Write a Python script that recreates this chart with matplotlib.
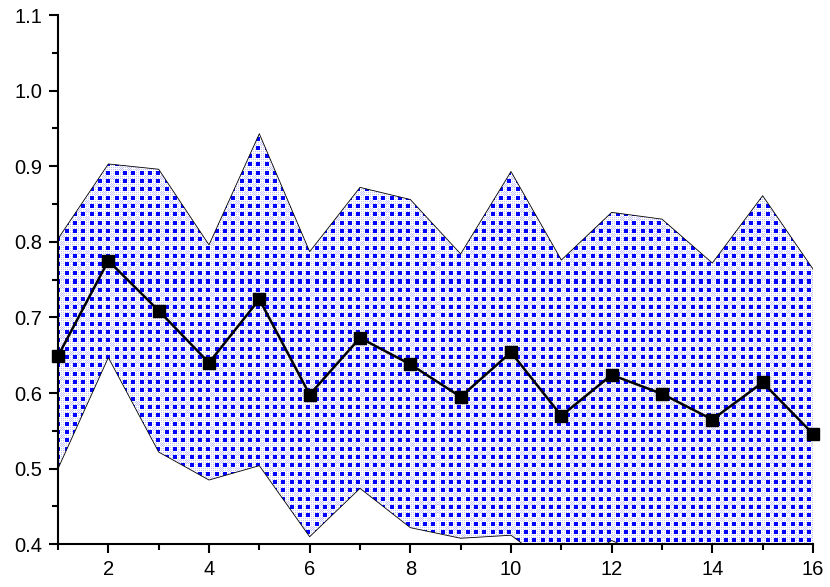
import numpy as np
import matplotlib
matplotlib.use("Agg")
import matplotlib.pyplot as plt
from matplotlib.ticker import MultipleLocator

plt.rcParams['font.family'] = ['Liberation Sans', 'DejaVu Sans']

x = list(range(1, 17))
mean = [0.649, 0.775, 0.709, 0.640, 0.724, 0.598, 0.673, 0.638,
        0.595, 0.654, 0.570, 0.624, 0.599, 0.565, 0.614, 0.546]
upper = [0.804, 0.903, 0.896, 0.796, 0.943, 0.787, 0.872, 0.856,
         0.784, 0.893, 0.776, 0.839, 0.830, 0.772, 0.861, 0.764]
lower = [0.500, 0.647, 0.522, 0.485, 0.504, 0.410, 0.474, 0.422,
         0.408, 0.412, 0.362, 0.405, 0.376, 0.360, 0.380, 0.350]
xticks = [2, 4, 6, 8, 10, 12, 14, 16]
yticks = [0.4, 0.5, 0.6, 0.7, 0.8, 0.9, 1.0, 1.1]

fig = plt.figure(figsize=(8.3, 5.87), dpi=100)
ax = fig.add_axes([58 / 830, 42.7 / 587, 755 / 830, 529.3 / 587])

# textured fill (blue squares pattern) clipped to the band
W, H = 755, 529
yy, xx = np.mgrid[0:H, 0:W]
P = 8.33
fx = np.mod(xx + 2, P)
fy = np.mod(yy + 2, P)
img = np.ones((H, W, 3))
lav = ((((fx >= 5) & (fx < 6)) | ((fx >= 7) & (fx < 8))) |
       (((fy >= 5) & (fy < 6)) | ((fy >= 7) & (fy < 8)))) & ((xx + yy) % 2 == 0)
img[lav] = [0.76, 0.76, 0.98]
blue = (fx < 4.0) & (fy < 4.0)
img[blue] = [0.0, 0.0, 1.0]

band = ax.fill_between(x, lower, upper, facecolor='none', edgecolor='none')
im = ax.imshow(img, extent=(0, 1, 0, 1), transform=ax.transAxes,
               interpolation='nearest', aspect='auto', zorder=1)
im.set_clip_path(band.get_paths()[0], transform=ax.transData)

ax.plot(x, upper, color='black', lw=0.6, zorder=2)
ax.plot(x, lower, color='black', lw=0.6, zorder=2)
ax.plot(x, mean, color='black', lw=1.8, marker='s', markersize=8,
        zorder=3, clip_on=False)

ax.set_xlim(1, 16)
ax.set_ylim(0.4, 1.1)
ax.set_xticks(xticks)
ax.set_yticks(yticks)
ax.set_yticklabels([f"{v:.1f}" for v in yticks])
ax.xaxis.set_minor_locator(MultipleLocator(1))
ax.yaxis.set_minor_locator(MultipleLocator(0.05))

for s in ['top', 'right']:
    ax.spines[s].set_visible(False)
for s in ['left', 'bottom']:
    ax.spines[s].set_linewidth(1.5)
ax.tick_params(which='major', direction='out', length=6.5, width=1.5,
               labelsize=14.5, pad=5)
ax.tick_params(which='minor', direction='out', length=4, width=1.5)

fig.savefig("out.png", dpi=100)
